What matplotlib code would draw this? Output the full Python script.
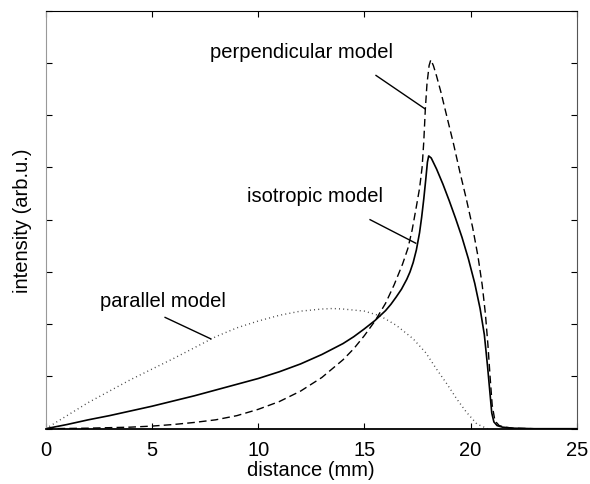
import matplotlib
matplotlib.use("Agg")
import matplotlib.pyplot as plt

plt.rcParams['font.family'] = ['Liberation Sans', 'DejaVu Sans']

# isotropic model (solid)
iso_x = [0, 1, 2, 3, 4, 5, 6, 7, 8, 9, 10, 11, 12, 13, 14, 14.5, 15, 15.5, 16, 16.25,
         16.5, 16.75, 17, 17.15, 17.3, 17.45, 17.6, 17.7, 17.8, 17.9, 17.97, 18.03,
         18.15, 18.4, 18.7, 19.0, 19.3, 19.6, 19.9, 20.2, 20.45, 20.65, 20.8, 20.9,
         21.0, 21.1, 21.25, 21.5, 22, 23, 25]
iso_y = [0, 0.08, 0.17, 0.25, 0.34, 0.43, 0.53, 0.63, 0.74, 0.85, 0.96, 1.09, 1.24,
         1.42, 1.63, 1.76, 1.91, 2.07, 2.26, 2.38, 2.52, 2.67, 2.86, 3.0, 3.18, 3.42,
         3.75, 4.05, 4.4, 4.8, 5.1, 5.22, 5.18, 4.97, 4.68, 4.36, 4.02, 3.66, 3.25,
         2.78, 2.3, 1.8, 1.2, 0.75, 0.3, 0.13, 0.06, 0.03, 0.01, 0, 0]

# perpendicular model (dashed)
perp_x = [0, 2, 4, 5, 6, 7, 8, 9, 10, 11, 12, 13, 14, 14.5, 15, 15.5, 16, 16.4, 16.8,
          17.05, 17.25, 17.45, 17.6, 17.72, 17.8, 17.87, 17.95, 18.05, 18.13, 18.25,
          18.4, 18.6, 18.9, 19.2, 19.5, 19.8, 20.1, 20.35, 20.55, 20.7, 20.82, 20.92,
          21.02, 21.15, 21.35, 21.6, 22, 23, 25]
perp_y = [0, 0.01, 0.03, 0.05, 0.08, 0.12, 0.17, 0.25, 0.37, 0.52, 0.72, 0.98, 1.32,
          1.53, 1.78, 2.06, 2.4, 2.75, 3.15, 3.45, 3.8, 4.25, 4.6, 5.0, 5.5, 6.1, 6.6,
          6.95, 7.06, 6.95, 6.75, 6.45, 5.95, 5.45, 4.91, 4.4, 3.85, 3.3, 2.75, 2.2,
          1.6, 1.0, 0.45, 0.15, 0.06, 0.03, 0.01, 0, 0]

# parallel model (dotted)
par_x = [0, 1, 2, 3, 4, 5, 6, 7, 8, 9, 10, 11, 12, 13, 13.5, 14, 15, 15.74, 16.5,
         17.3, 17.9, 18.4, 18.9, 19.35, 19.8, 20.3, 20.8]
par_y = [0, 0.25, 0.5, 0.72, 0.94, 1.14, 1.34, 1.55, 1.76, 1.93, 2.06, 2.17, 2.25,
         2.29, 2.3, 2.29, 2.25, 2.16, 1.98, 1.72, 1.45, 1.14, 0.85, 0.57, 0.32, 0.09,
         0.0]

x_ticks = [0, 5, 10, 15, 20, 25]
y_ticks = [0, 1, 2, 3, 4, 5, 6, 7, 8]

labels = ["perpendicular model", "isotropic model", "parallel model"]
label_pos = [(7.74, 7.21), (9.47, 4.47), (2.56, 2.45)]
leaders = [((15.55, 6.76), (17.86, 6.12)),
           ((15.27, 4.00), (17.42, 3.55)),
           ((5.62, 2.13), (7.77, 1.72))]

fig = plt.figure(figsize=(5.9, 4.85), dpi=100)
ax = fig.add_axes([0.0775, 0.114, 0.9, 0.862])

ax.plot(par_x, par_y, color='#444444', lw=1.0, linestyle=(0, (0.7, 2.3)))
ax.plot(perp_x, perp_y, color='black', lw=1.0, linestyle=(0, (5.5, 3)))
ax.plot(iso_x, iso_y, color='black', lw=1.2, linestyle='-')

for txt, (tx, ty), ((x0, y0), (x1, y1)) in zip(labels, label_pos, leaders):
    ax.text(tx, ty, txt, fontsize=14.5, ha='left', va='center')
    ax.plot([x0, x1], [y0, y1], color='black', lw=1.0)

ax.set_xlim(0, 25)
ax.set_ylim(0, 8)
ax.set_xticks(x_ticks)
ax.set_yticks(y_ticks)
ax.set_yticklabels([])
ax.tick_params(direction='in', length=4.5, width=0.8, top=True, right=True,
               labelsize=14.5, pad=8)
ax.set_xlabel("distance (mm)", fontsize=14.5, labelpad=1)
ax.set_ylabel("intensity (arb.u.)", fontsize=14.5, labelpad=2)

ax.spines['left'].set_color('#999999')
ax.spines['right'].set_color('#555555')
for s in ['top', 'bottom']:
    ax.spines[s].set_color('black')
ax.spines['bottom'].set_linewidth(1.3)

fig.savefig("out.png", dpi=100)
